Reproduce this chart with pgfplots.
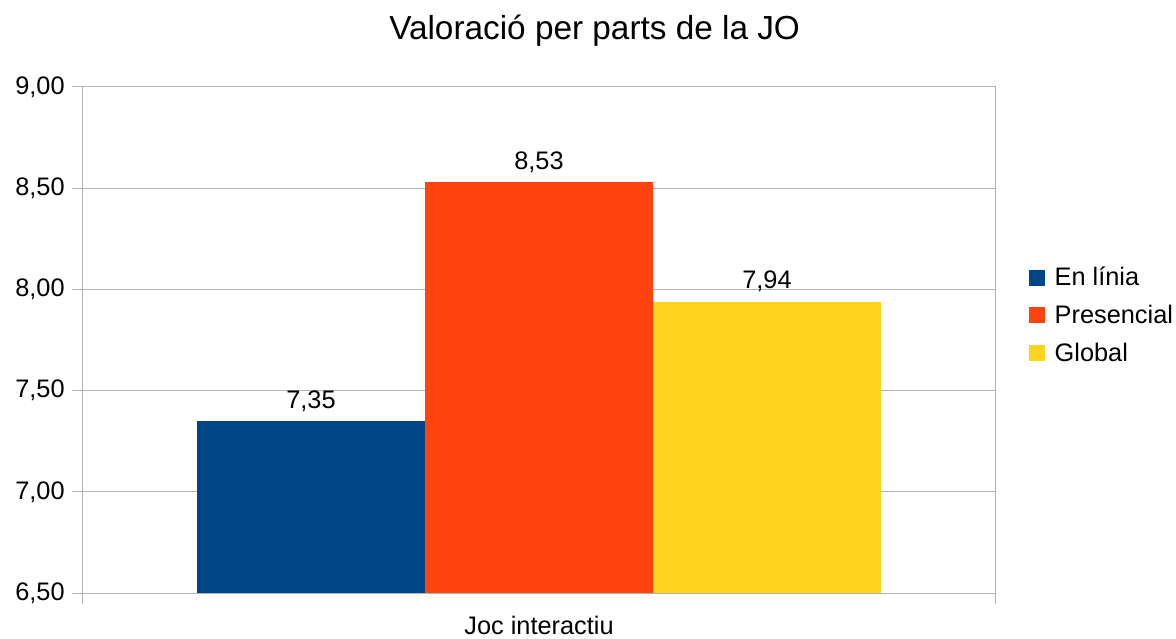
\documentclass[border=0pt]{standalone}
\usepackage{pgfplots}
\pgfplotsset{compat=1.18}
\usepackage{fontspec}
\setmainfont{Liberation Sans}

\definecolor{lobBlue}{HTML}{004586}
\definecolor{lobRed}{HTML}{FF420E}
\definecolor{lobYellow}{HTML}{FFD320}
\definecolor{gridGray}{HTML}{B3B3B3}

\begin{document}
\begin{tikzpicture}
\useasboundingbox (-62.25pt,-33.75pt) rectangle (819.75pt,444.75pt);
\begin{axis}[
    scale only axis,
    width=684pt,
    height=379.5pt,
    ybar=0pt,
    bar width=0.25,
    xmin=-0.5, xmax=0.5,
    ymin=6.5, ymax=9,
    ytick={6.5,7,7.5,8,8.5,9},
    xtick={-0.5,0.5},
    xticklabels={},
    ymajorgrids=true,
    grid style={gridGray, line width=0.75pt},
    axis line style={gridGray, line width=0.75pt},
    tick style={gridGray, line width=0.75pt},
    tick align=outside,
    major tick length=8.25pt,
    xtick pos=bottom,
    ytick pos=left,
    /pgf/number format/.cd, fixed, fixed zerofill, precision=2, use comma, assume math mode=true,
    /pgfplots/.cd,
    tick label style={font=\fontsize{19}{23}\selectfont, black},
    yticklabel style={xshift=-2pt},
    title={Valoració per parts de la JO},
    title style={font=\fontsize{25}{30}\selectfont, at={(axis description cs:0.561,1)}, anchor=center, yshift=36pt},
    xlabel={Joc interactiu},
    xlabel style={font=\fontsize{19}{23}\selectfont, at={(axis description cs:0.5,0)}, anchor=center, yshift=-24pt},
    nodes near coords,
    nodes near coords style={font=\fontsize{19}{23}\selectfont, black, yshift=3.5pt, /pgf/number format/.cd, fixed, fixed zerofill, precision=2, use comma, assume math mode=true},
    legend style={at={(rel axis cs:1.033,0.549)}, anchor=west, draw=none, fill=none,
        font=\fontsize{19}{23}\selectfont, row sep=9pt},
    legend cell align=left,
    legend image code/.code={\fill[#1] (0pt,-6pt) rectangle (12pt,6pt);},
    legend style={nodes={inner xsep=7pt}},
]
\addplot[fill=lobBlue, draw=none] coordinates {(0,7.35)};
\addplot[fill=lobRed, draw=none] coordinates {(0,8.53)};
\addplot[fill=lobYellow, draw=none] coordinates {(0,7.94)};
\legend{En línia, Presencial, Global}
\end{axis}
\end{tikzpicture}
\end{document}
